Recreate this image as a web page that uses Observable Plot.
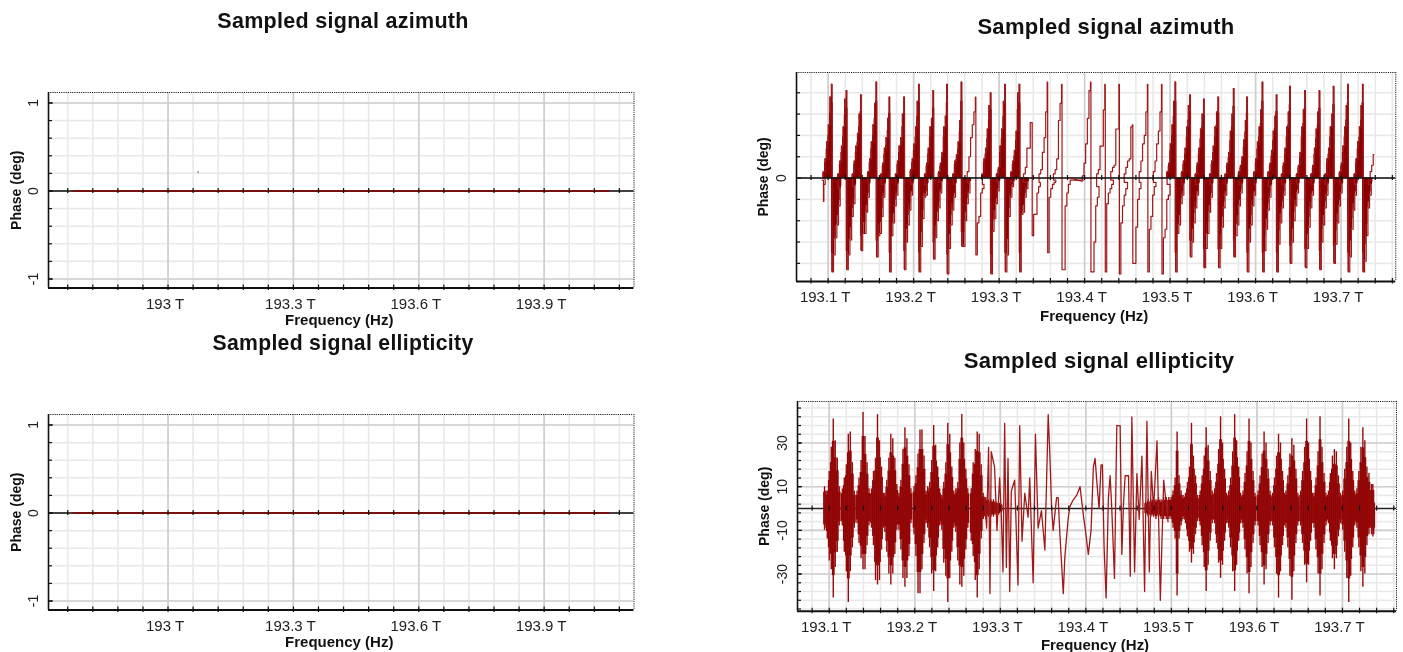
<!DOCTYPE html>
<html><head><meta charset="utf-8">
<script src="https://cdn.jsdelivr.net/npm/d3@7"></script>
<script src="https://cdn.jsdelivr.net/npm/@observablehq/plot@0.6"></script>
<style>
html,body{margin:0;padding:0;background:#fff}
body{position:relative;width:1403px;height:652px;overflow:hidden;font-family:"Liberation Sans",Arial,sans-serif}
.t{position:absolute;font-weight:bold;color:#111;white-space:nowrap;transform:translate(-50%,-50%);filter:blur(0.3px)}
svg{position:absolute;overflow:visible;filter:blur(0.35px)}
</style></head><body>
<script>
const red = "#8b0000";
const xLabel = "Frequency (Hz)", yLabel = "Phase (deg)";
const titles = ["Sampled signal azimuth", "Sampled signal ellipticity"];

// left panels (all zero)
const flatFreq = [192.7726, 193.0, 193.3, 193.6, 193.9, 194.055];
const flatPhase = [0, 0, 0, 0, 0, 0];
const strayFreq = [193.072], strayPhase = [0.216];
const leftMajor = [193, 193.3, 193.6, 193.9];
const leftLabels = ["193 T", "193.3 T", "193.6 T", "193.9 T"];
const rightMajor = [193.1, 193.2, 193.3, 193.4, 193.5, 193.6, 193.7];
const rightLabels = ["193.1 T", "193.2 T", "193.3 T", "193.4 T", "193.5 T", "193.6 T", "193.7 T"];

// azimuth: burst centres, rising ladder, falling ladder
const azCentre = [193.1043,193.1216,193.1384,193.1565,193.1718,193.1890,193.2063,193.2231,193.2392,193.2561,193.2725,193.2902,193.3071,193.3239,193.3384,193.3565,193.3733,193.4071,193.4239,193.4404,193.4561,193.4737,193.4902,193.5063,193.5235,193.5396,193.5565,193.5745,193.5902,193.6082,193.6247,193.6404,193.6580,193.6749,193.6914,193.7082,193.7255];
const azUp = [[3,9,17,25,38,44],[2,8,15,24,37,41],[2,8,15,21,30,39],[3,9,17,25,35,45],[2,7,14,19,28,38],[2,8,15,19,30,38],[4,9,16,24,36,44],[2,7,14,24,28,41],[3,7,12,24,29,44],[2,8,11,17,27,45],[3,10,19,25,31,38],[2,9,14,23,34,40],[2,5,15,23,36,44],[3,8,13,22,40,44],[2,5,14,14,26,26],[2,4,12,19,31,45],[2,4,9,27,35,44],[1,7,16,28,41,45],[2,4,15,15,32,44],[3,5,6,23,23,44],[2,5,8,9,24,25],[3,8,16,20,31,44],[3,8,16,22,31,44],[3,7,16,25,36,45],[3,8,14,24,34,39],[2,7,14,23,30,37],[2,8,15,24,31,38],[2,7,12,22,30,42],[3,6,10,18,27,38],[3,9,17,24,32,45],[3,7,13,22,29,39],[2,7,14,24,31,43],[2,6,12,24,32,41],[2,6,14,23,31,41],[2,9,14,24,30,43],[3,7,15,24,34,44],[2,9,17,24,34,44]];
const azDown = [[44,36,28,22,13,5],[43,36,29,18,12,4],[34,26,26,16,9,3],[37,27,26,18,9,3],[44,27,21,13,8,3],[43,30,22,15,8,3],[44,32,19,9,8,3],[38,28,20,14,7,2],[45,33,22,15,9,3],[32,32,20,12,7,2],[36,21,18,7,5,3],[45,25,19,12,6,2],[44,36,18,9,4,2],[44,17,16,9,5,2],[27,17,17,7,4,2],[35,9,5,3,2,1],[43,43,13,7,3,1],[44,44,30,13,9,4],[44,12,7,5,3,1],[45,21,13,8,5,2],[40,40,23,10,5,2],[44,24,18,8,4,2],[45,28,24,10,8,3],[44,26,22,12,8,3],[37,30,21,14,8,3],[42,33,26,16,9,3],[42,33,23,14,8,3],[37,27,22,13,7,3],[44,30,22,13,8,3],[44,34,24,15,9,4],[44,31,21,14,8,3],[40,30,20,13,7,3],[42,33,23,14,8,3],[43,30,22,14,8,3],[40,31,21,13,7,3],[44,37,24,15,8,3],[44,39,27,14,8,3]];
const azUpStep = [-0.0098,-0.0078,-0.0059,-0.0039,-0.0020,-0.0003];
const azDownStep = [0.0003,0.0020,0.0039,0.0059,0.0078,0.0098];
const azOpen = [10,14,15,16,17,18,19,20,21,22];
const azLeadFreq = [193.0930,193.0945,193.0950,193.0965];
const azLeadPhase = [-1,-11,-3,0];
const azTailFreq = [193.7320,193.7340,193.7358,193.7376,193.7385];
const azTailPhase = [-1,3,6,11,11];
const azQuietFreq = [193.3796,193.3850,193.3914,193.3973,193.4012];
const azQuietPhase = [0,0,-1,-1.5,0];

// ellipticity: spindle centres with upper and lower sample values
const elCentre = [193.1047,193.1223,193.1395,193.1564,193.1720,193.1885,193.2061,193.2221,193.2386,193.2550,193.2730,193.5067,193.5235,193.5407,193.5575,193.5740,193.5908,193.6084,193.6253,193.6409,193.6581,193.6738,193.6906,193.7074,193.7239];
const elHigh = [[8,17,28,41,31,23,10],[9,14,20,34,35,21,8],[8,14,22,44,33,21,9],[9,17,23,43,31,19,7],[7,13,23,34,32,23,11],[7,13,27,37,32,20,9],[10,15,25,36,36,24,8],[10,12,22,38,29,19,9],[6,12,21,39,34,19,8],[9,12,30,43,30,18,9],[9,21,27,35,34,20,7],[5,8,14,35,15,8,6],[7,12,19,39,24,15,6],[8,15,24,37,29,17,8],[9,16,27,42,30,18,7],[8,14,26,43,31,19,7],[8,16,26,41,30,17,7],[8,15,25,35,30,18,8],[7,14,24,34,30,17,7],[8,15,25,32,29,18,7],[8,17,28,41,30,17,7],[7,14,26,42,28,16,7],[8,16,24,27,26,15,7],[8,18,28,41,30,17,8],[9,17,28,37,31,19,9]];
const elLow = [[-14,-24,-28,-41,-27,-20,-8],[-8,-20,-29,-43,-29,-18,-9],[-7,-16,-23,-28,-28,-17,-8],[-9,-17,-33,-35,-33,-19,-9],[-11,-20,-30,-35,-30,-21,-10],[-10,-19,-32,-36,-32,-22,-7],[-12,-22,-39,-39,-28,-16,-7],[-9,-18,-30,-38,-29,-18,-8],[-10,-25,-31,-43,-32,-20,-9],[-11,-24,-35,-36,-31,-19,-9],[-15,-22,-33,-41,-28,-14,-5],[-5,-9,-14,-40,-14,-8,-5],[-7,-13,-20,-25,-21,-12,-6],[-8,-17,-27,-38,-26,-15,-7],[-7,-16,-25,-32,-26,-15,-7],[-9,-18,-29,-38,-26,-15,-7],[-9,-19,-30,-39,-27,-16,-8],[-8,-17,-27,-35,-28,-16,-8],[-8,-18,-30,-41,-29,-17,-8],[-9,-18,-31,-42,-29,-16,-8],[-8,-16,-26,-34,-26,-15,-7],[-9,-19,-30,-40,-28,-16,-8],[-7,-15,-23,-28,-23,-13,-7],[-10,-20,-32,-43,-31,-18,-8],[-9,-18,-29,-36,-30,-17,-9]];
const elStep = [-0.0070,-0.0047,-0.0023,0,0.0023,0.0047,0.0070];
const elLineFreq = [193.2816,193.2840,193.2863,193.2879,193.2894,193.2933,193.2961,193.2992,193.3012,193.3031,193.3051,193.3071,193.3090,193.3110,193.3129,193.3168,193.3207,193.3227,193.3254,193.3286,193.3325,193.3344,193.3384,193.3411,193.3442,193.3481,193.3521,193.3540,193.3560,193.3579,193.3599,193.3618,193.3658,193.3677,193.3697,193.3716,193.3736,193.3755,193.3795,193.3814,193.3853,193.3892,193.3932,193.3971,193.4002,193.4029,193.4061,193.4088,193.4108,193.4127,193.4155,193.4178,193.4194,193.4213,193.4237,193.4264,193.4284,193.4303,193.4335,193.4362,193.4401,193.4421,193.4440,193.4460,193.4499,193.4519,193.4538,193.4570,193.4597,193.4624,193.4656,193.4687,193.4714,193.4742,193.4765,193.4793,193.4832,193.4871,193.4910,193.4961];
const elLineVal = [5,-9,28,-39,26,19,-10,14,-3,-29,39,-27,23,-38,8,13,-35,38,-15,7,-4,14,-34,34,-9,-1,-19,11,43,25,1,-10,5,5,-12,-25,-39,-22,-4,1,4,6,10,-3,-12,-21,-10,19,23,13,0,20,20,-17,-41,5,15,0,-32,38,38,-21,2,15,15,-31,42,-29,16,-5,24,-38,40,-29,17,0,31,-42,13,-6];
const elCoreFreq = [193.0945,193.0962,193.2800,193.2830,193.2860,193.2890,193.2920,193.2950,193.2980,193.3010,193.4700,193.4730,193.4760,193.4790,193.4820,193.4850,193.4880,193.4910,193.4940,193.4970];
const elCoreHigh = [10,8,5,5,4,4,4,3,3,2,3,4,4,5,4,5,4,5,5,5];
const elCoreLow = [-10,-9,-5,-5,-4,-4,-4,-3,-3,-2,-3,-4,-4,-4,-5,-4,-5,-5,-5,-5];
const elTailFreq = [193.7310,193.7325,193.7340,193.7356,193.7366];
const elTailHigh = [16,8,11,11,3];
const elTailLow = [-12,-8,-12,-13,-12];
const elTicksY = [-46,-42,-38,-34,-30,-26,-22,-18,-14,-10,-6,-2,2,6,10,14,18,22,26,30,34,38,42,46];
const elTickLabels = [-30,-10,10,30];

// expansion of the ladders into samples
const azSamples = azCentre.flatMap((c,i)=>[
  ...azUp[i].map((v,j)=>({f:c+azUpStep[j],v,open:azOpen.includes(i)})),
  ...azDown[i].map((v,j)=>({f:c+azDownStep[j],v:-v,open:azOpen.includes(i)}))
]);
const azLine = [
  ...azLeadFreq.map((f,i)=>({f,v:azLeadPhase[i]})),
  ...azCentre.flatMap((c,i)=>[
    ...azUp[i].map((v,j)=>({f:c+azUpStep[j],v})),
    ...azDown[i].map((v,j)=>({f:c+azDownStep[j],v:-v}))
  ]),
  ...azTailFreq.map((f,i)=>({f,v:azTailPhase[i]}))
];
const elSamples = [
  ...elCentre.flatMap((c,i)=>elStep.map((d,j)=>({f:c+d,hi:elHigh[i][j],lo:elLow[i][j]}))),
  ...elCoreFreq.map((f,i)=>({f,hi:elCoreHigh[i],lo:elCoreLow[i]})),
  ...elTailFreq.map((f,i)=>({f,hi:elTailHigh[i],lo:elTailLow[i]}))
];
const elLine = elLineFreq.map((f,i)=>({f,v:elLineVal[i]}));

function title(text,x,y,size,ls){
  const d=document.createElement("div");d.className="t";d.textContent=text;
  d.style.cssText=`left:${x}px;top:${y}px;font-size:${size}px;letter-spacing:${ls}px`;
  document.body.appendChild(d);
}

function panel(o){
  const {L,R,T,B,xd,yd,minorX,majorX,labels,minorY,majorY,yTickVals,yFmt,marks,above=[],zeroOn=true,fs,labelPad,xlDy,ylDx,ytDx=-15}=o;
  const px=60,py=45;
  const kx=(xd[1]-xd[0])/(R-L), ky=(yd[1]-yd[0])/(B-T);
  const w=R-L+px*2, h=B-T+py*2;
  const svgEl=Plot.plot({
    width:w,height:h,marginLeft:px,marginRight:px,marginTop:py,marginBottom:py,
    style:{background:"transparent",fontFamily:"'Liberation Sans',Arial,sans-serif",overflow:"visible"},
    x:{domain:xd,axis:null},y:{domain:yd,axis:null},
    marks:[
      Plot.ruleX(minorX,{stroke:"#e9e9e9",strokeWidth:1.6}),
      Plot.ruleY(minorY,{stroke:"#e9e9e9",strokeWidth:1.6}),
      Plot.ruleX(majorX,{stroke:"#cfcfcf",strokeWidth:1.6}),
      Plot.ruleY(majorY,{stroke:"#cfcfcf",strokeWidth:1.6}),
      Plot.ruleY([yd[1]],{stroke:"#222",strokeWidth:1,strokeDasharray:"1.2,1"}),
      Plot.ruleX([xd[1]],{stroke:"#222",strokeWidth:1,strokeDasharray:"1.2,1"}),
      ...(zeroOn?[]:[Plot.ruleY([0],{stroke:"#222",strokeWidth:1.4})]),
      ...marks,
      ...(zeroOn?[Plot.ruleY([0],{stroke:"#111",strokeWidth:1.4}),...above]:above),
      Plot.ruleX(minorX,{x:d=>d,y1:-2.5*ky,y2:2.5*ky,stroke:"#111",strokeWidth:1.2}),
      Plot.ruleY([yd[0]],{stroke:"#111",strokeWidth:2}),
      Plot.ruleX(minorX,{x:d=>d,y1:yd[0]-2.5*ky,y2:yd[0]+3*ky,stroke:"#111",strokeWidth:1.2}),
      Plot.ruleX([xd[0]],{stroke:"#111",strokeWidth:1.6}),
      Plot.ruleY(minorY,{y:d=>d,x1:xd[0],x2:xd[0]+4*kx,stroke:"#111",strokeWidth:1.2}),
      Plot.ruleY(majorY,{y:d=>d,x1:xd[0],x2:xd[0]+5*kx,stroke:"#111",strokeWidth:1.2}),
      Plot.text(majorX,{x:d=>d,frameAnchor:"bottom",dy:labelPad,dx:-3,text:(d)=>labels[majorX.indexOf(d)],fontSize:fs,fill:"#222"}),
      Plot.text(yTickVals,{y:d=>d,frameAnchor:"left",textAnchor:"middle",dx:ytDx,rotate:-90,text:yFmt,fontSize:fs-1,fill:"#222"}),
      Plot.text([xLabel],{frameAnchor:"bottom",dy:xlDy,dx:-2,text:d=>d,fontSize:15,fontWeight:"bold",fill:"#111"}),
      Plot.text([yLabel],{frameAnchor:"left",textAnchor:"middle",dx:ylDx,rotate:-90,text:d=>d,fontSize:14,fontWeight:"bold",fill:"#111"})
    ]
  });
  svgEl.style.position="absolute";
  svgEl.style.left=(L-px)+"px";
  svgEl.style.top=(T-py)+"px";
  document.body.appendChild(svgEl);
}

const leftX=[192.714,194.115];
const leftMinor=d3.range(0,23).map(i=>+(192.76+i*0.06).toFixed(2));
const leftY=d3.range(-5,6).map(i=>+(i*0.2).toFixed(1));
const rightMinor=d3.range(0,35).map(i=>+(193.08+i*0.02).toFixed(2));
const azGrid=[-40,-30,-20,-10,10,20,30,40];

function leftPanel(T,B,yd,withStray){
  panel({L:47.5,R:633,T,B,xd:leftX,yd,minorX:leftMinor,majorX:leftMajor,labels:leftLabels,
    minorY:leftY,majorY:[-1,0,1],yTickVals:[-1,0,1],yFmt:d=>String(d),fs:15,labelPad:21,xlDy:37,ylDx:-32,
    marks:withStray?[Plot.dot(strayFreq.map((f,i)=>({f,v:strayPhase[i]})),{x:"f",y:"v",r:0.7,fill:"#333"})]:[],
    above:[Plot.line(flatFreq.map((f,i)=>({f,v:flatPhase[i]})),{x:"f",y:"v",stroke:red,strokeWidth:1.4})]});
}
leftPanel(91.5,287,[-1.102,1.119],true);
leftPanel(413.5,609,[-1.102,1.119],false);

panel({L:795.7,R:1395,T:71.7,B:280.7,xd:[193.063,193.764],yd:[-48.5,49.5],minorX:rightMinor,majorX:rightMajor,labels:rightLabels,
  minorY:azGrid,majorY:[0],yTickVals:[0],yFmt:d=>String(d),fs:15,labelPad:21,xlDy:40,ylDx:-33,
  marks:[
    Plot.ruleX(azSamples.filter(d=>!d.open),{x:"f",y1:0,y2:d=>d.v*0.8,stroke:red,strokeWidth:2.3}),
    Plot.ruleX(azSamples.filter(d=>!d.open),{x:"f",y1:0,y2:"v",stroke:red,strokeWidth:1.5}),
    Plot.line(azLine,{x:"f",y:"v",curve:"step-after",stroke:"#a01818",strokeWidth:1.2})
  ],
  above:[Plot.line(azQuietFreq.map((f,i)=>({f,v:azQuietPhase[i]})),{x:"f",y:"v",stroke:red,strokeWidth:1})]
});

panel({L:797,R:1396,T:401,B:610.7,xd:[193.0629,193.7632],yd:[-47,49],minorX:rightMinor,majorX:rightMajor,labels:rightLabels,
  minorY:elTicksY,majorY:elTickLabels,yTickVals:elTickLabels,yFmt:d=>String(d),fs:15,labelPad:21,xlDy:39,ylDx:-33,zeroOn:false,
  marks:[
    Plot.ruleX(elSamples,{x:"f",y1:d=>d.lo*0.75,y2:d=>d.hi*0.75,stroke:red,strokeWidth:2.8}),
    Plot.ruleX(elSamples,{x:"f",y1:"lo",y2:"hi",stroke:"#960a0a",strokeWidth:1.4}),
    Plot.line(elLine,{x:"f",y:"v",stroke:"#a01818",strokeWidth:1.3})
  ]
});

title(titles[0],343,21,21.5,0.3);
title(titles[1],343,343,21.2,0.3);
title(titles[0],1106,27,22,0.3);
title(titles[1],1099,361,22,0.3);
</script>
</body></html>
